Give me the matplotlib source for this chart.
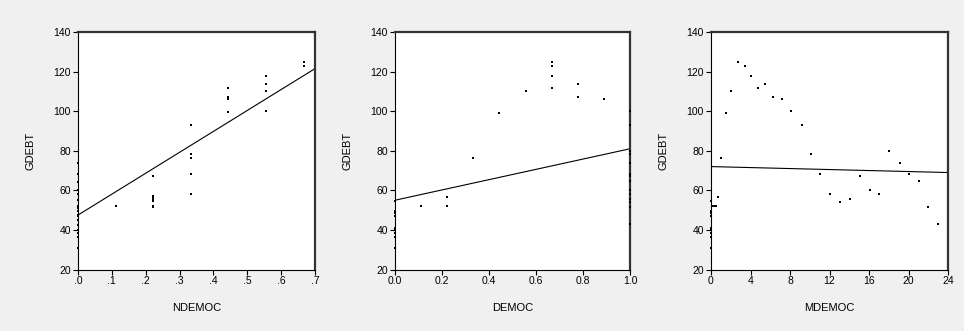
import numpy as np
import matplotlib
matplotlib.use("Agg")
import matplotlib.pyplot as plt

# =========================================================
# DATA
# =========================================================

# Panel 1: GDEBT vs NDEMOC
ndemoc_x = [0.0] * 17 + [0.111] + [0.222] * 7 + [0.333] * 5 + [0.444] * 4 + [0.556] * 4 + [0.667] * 2
ndemoc_y = [73.7, 68.3, 64.4, 60.3, 58.3, 54.9, 52.2, 50.9, 49.5, 47.5, 46.8, 44.8, 42.3, 40.2, 38.2, 36.2, 30.8,
            52.2,
            67.1, 57.0, 56.2, 55.3, 54.4, 52.2, 51.7,
            92.9, 78.2, 76.2, 68.4, 58.1,
            111.6, 107.1, 106.1, 99.5,
            117.7, 113.8, 110.1, 100.0,
            124.8, 123.0]
ndemoc_fit_x = [0.0, 0.7]
ndemoc_fit_y = [47.5, 121.5]

# Panel 2: GDEBT vs DEMOC
democ_x = [0.0] * 9 + [0.111] + [0.222] * 2 + [0.333] + [0.444] + [0.556] + [0.667] * 4 + [0.778] * 2 + [0.889] + [1.0] * 16
democ_y = [54.4, 49.4, 48.4, 47.0, 41.1, 40.3, 38.3, 36.2, 30.8,
           52.2,
           56.5, 51.9,
           76.2,
           99.3,
           110.1,
           124.8, 123.0, 117.7, 111.6,
           113.8, 107.1,
           106.1,
           100.0, 92.9, 80.1, 78.2, 73.7, 68.4, 68.3, 67.1, 64.6, 60.0, 58.1, 58.1, 55.4, 54.1, 51.4, 43.0]
democ_fit_x = [0.0, 1.0]
democ_fit_y = [55.0, 81.0]

# Panel 3: GDEBT vs MDEMOC
mdemoc_x = [0.0] * 9 + [0.11, 0.33, 0.55, 0.74, 1.05, 1.49, 2.06, 2.70, 3.41, 4.02, 4.73, 5.50, 6.24, 7.16,
                        8.13, 9.18, 10.09, 11.07, 12.08, 13.10, 14.08, 15.05, 16.07, 17.05, 18.06, 19.10,
                        20.02, 21.03, 22.00, 23.02]
mdemoc_y = [54.4, 49.4, 48.4, 47.0, 41.1, 40.3, 38.3, 36.2, 30.8,
            52.2, 52.2, 51.9, 56.5, 76.2, 99.3, 110.1, 124.8, 123.0, 117.7, 111.6, 113.8, 107.1, 106.1,
            100.0, 92.9, 78.2, 68.4, 58.1, 54.1, 55.4, 67.1, 60.0, 58.1, 80.1, 73.7,
            68.3, 64.6, 51.4, 43.0]
mdemoc_fit_x = [0.0, 24.0]
mdemoc_fit_y = [72.0, 69.0]

# Axis setup
panels = [
    ("NDEMOC", ndemoc_x, ndemoc_y, ndemoc_fit_x, ndemoc_fit_y,
     (0.0, 0.7), [0, 0.1, 0.2, 0.3, 0.4, 0.5, 0.6, 0.7], [".0", ".1", ".2", ".3", ".4", ".5", ".6", ".7"]),
    ("DEMOC", democ_x, democ_y, democ_fit_x, democ_fit_y,
     (0.0, 1.0), [0, 0.2, 0.4, 0.6, 0.8, 1.0], ["0.0", "0.2", "0.4", "0.6", "0.8", "1.0"]),
    ("MDEMOC", mdemoc_x, mdemoc_y, mdemoc_fit_x, mdemoc_fit_y,
     (0, 24), [0, 4, 8, 12, 16, 20, 24], ["0", "4", "8", "12", "16", "20", "24"]),
]

y_ticks = [20, 40, 60, 80, 100, 120, 140]

# =========================================================
# PLOT
# =========================================================

plt.rcParams['font.family'] = ['Liberation Sans', 'DejaVu Sans']

W, H = 964, 331
fig = plt.figure(figsize=(W / 100, H / 100), dpi=100, facecolor="#f0f0f0")

lefts = [78, 395, 711]
widths = [237, 235, 237]
top, bottom = 32, 269.5

for (name, xs, ys, fx, fy, xlim, xt, xtl), l, w in zip(panels, lefts, widths):
    ax = fig.add_axes([l / W, 1 - bottom / H, w / W, (bottom - top) / H])
    ax.set_facecolor("white")

    ax.scatter(xs, ys, s=4.2, marker="s", color="black", linewidths=0, zorder=3, clip_on=False)
    ax.plot(fx, fy, color="black", lw=0.8, zorder=2)

    ax.set_xlim(*xlim)
    ax.set_ylim(20, 140)
    ax.set_xticks(xt)
    ax.set_xticklabels(xtl)
    ax.set_yticks(y_ticks)
    ax.tick_params(direction="out", length=3.5, width=0.8, labelsize=7.5, pad=1.5, colors="black")

    for side in ["left", "bottom"]:
        ax.spines[side].set_linewidth(0.8)
    for side in ["top", "right"]:
        ax.spines[side].set_linewidth(1.6)
        ax.spines[side].set_color("#333333")

    ax.set_xlabel(name, fontsize=8, labelpad=12)
    ax.set_ylabel("GDEBT", fontsize=8, labelpad=13)

plt.savefig("out.png", dpi=100, facecolor=fig.get_facecolor())
